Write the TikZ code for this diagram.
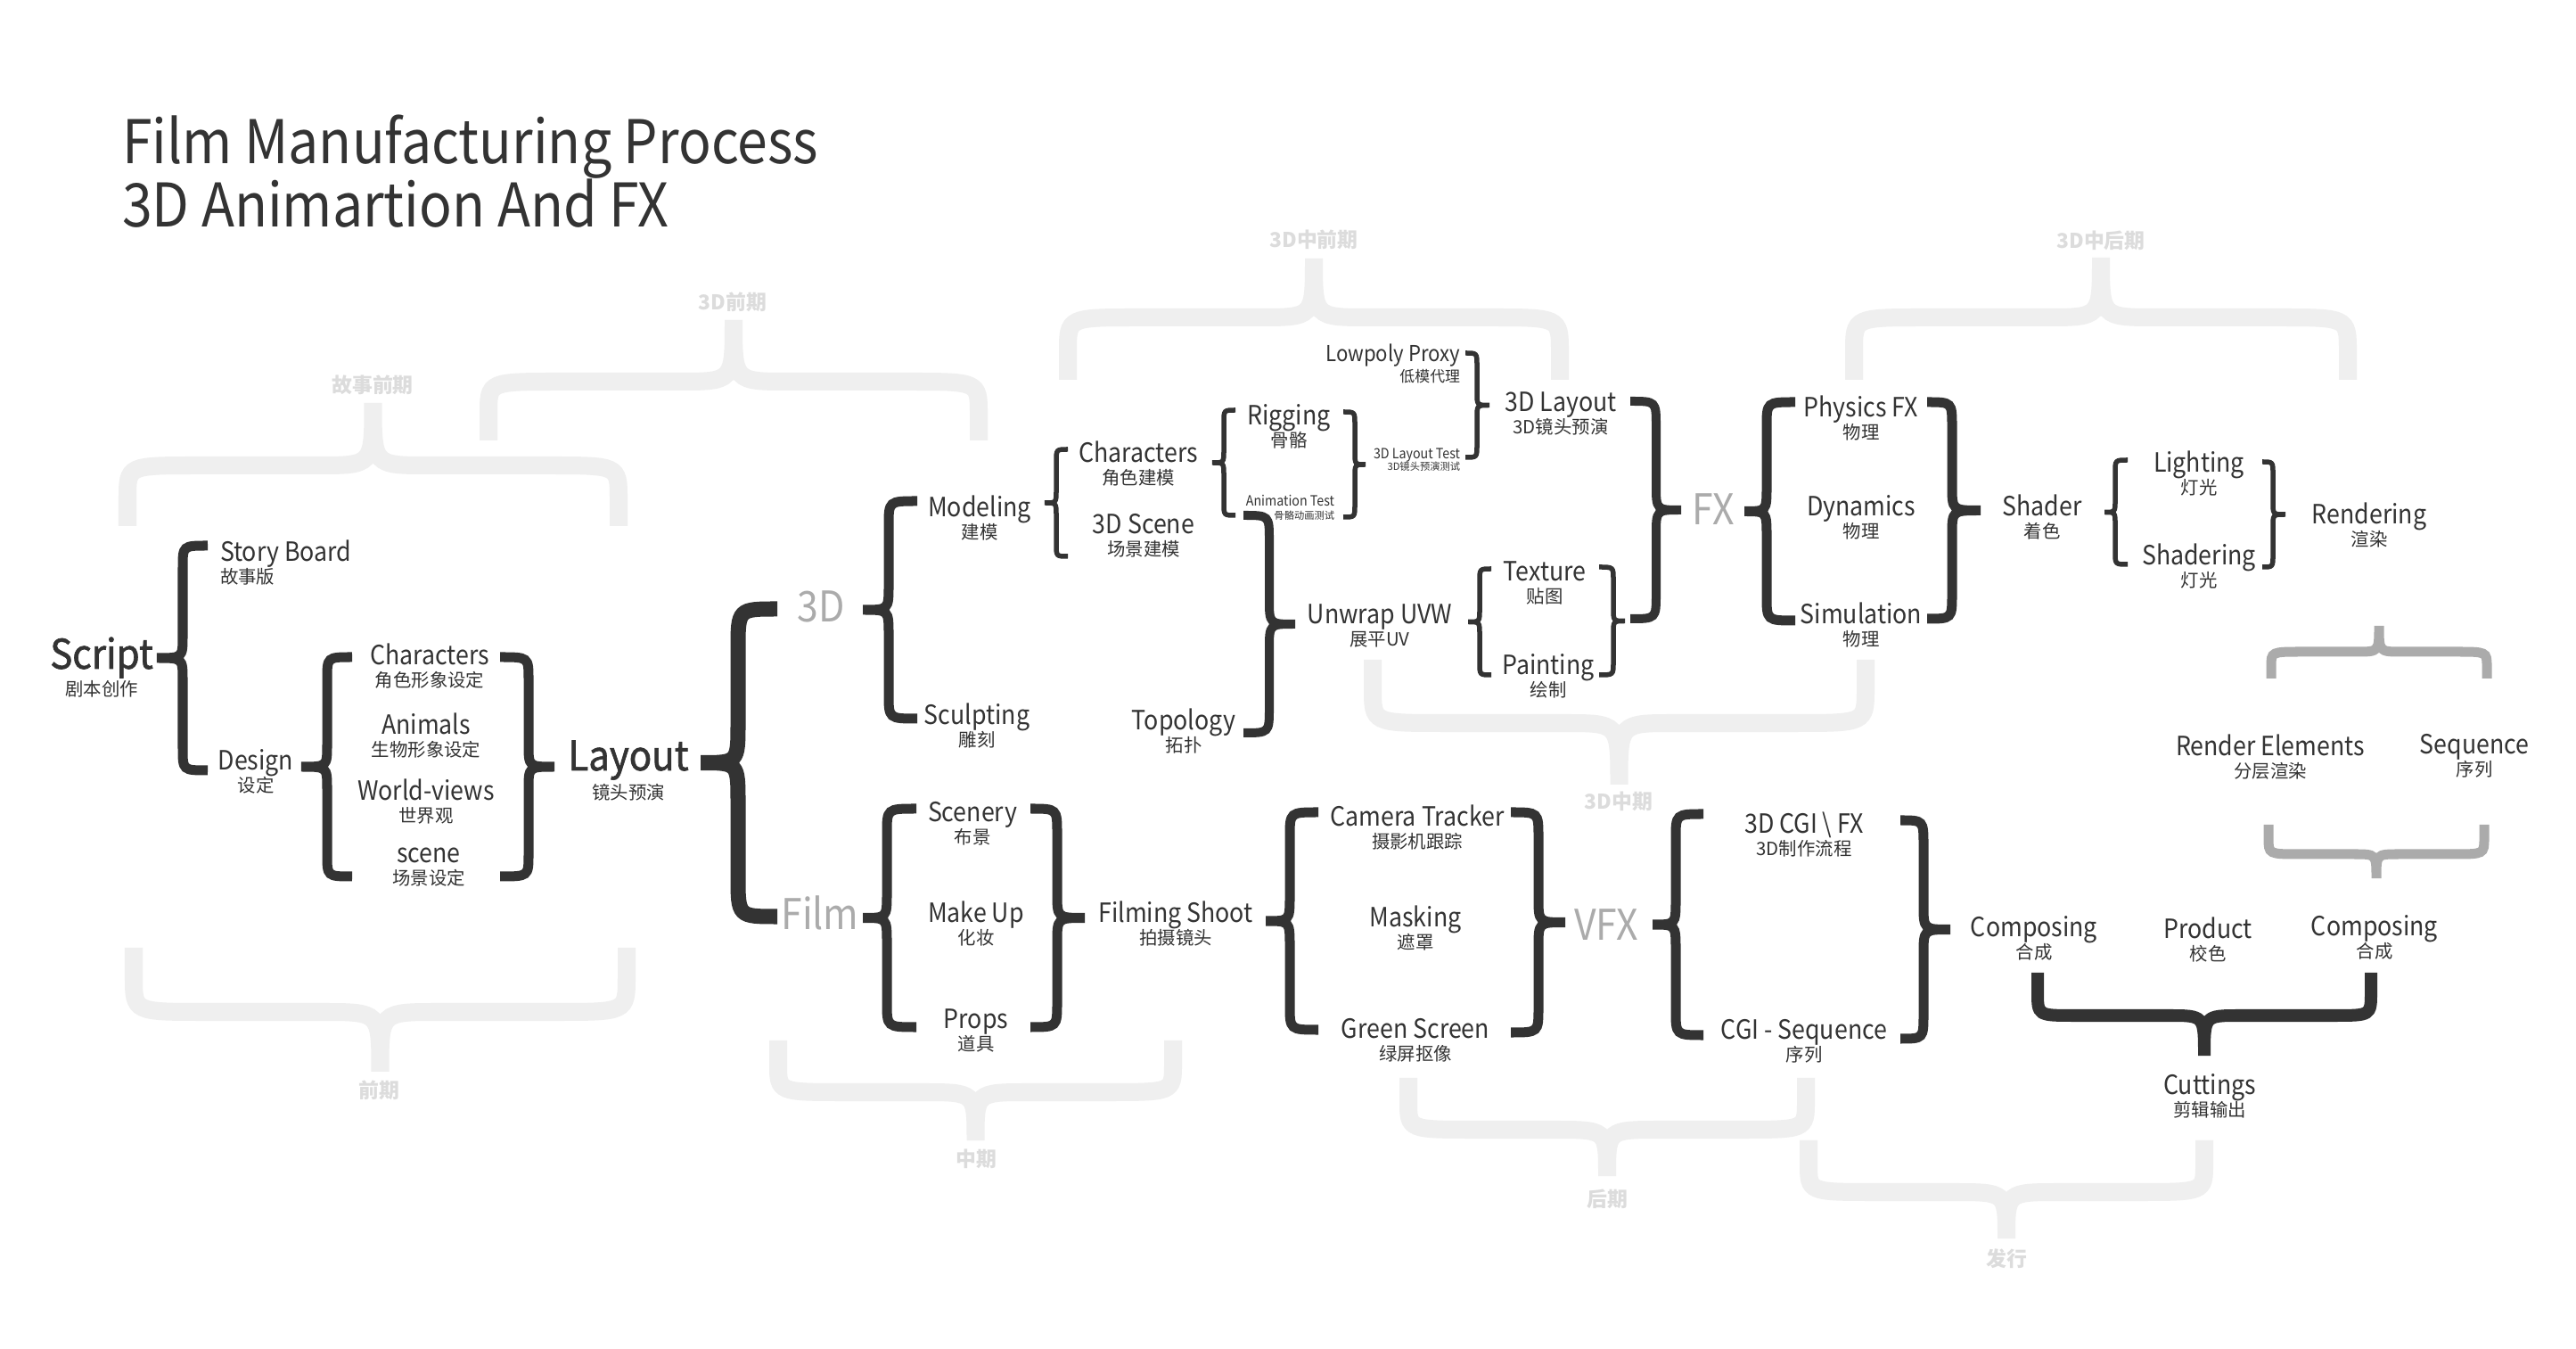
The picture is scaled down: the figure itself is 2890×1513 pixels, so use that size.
\documentclass[tikz,border=0pt]{standalone}
\usepackage{fontspec}
\setmainfont{Noto Sans CJK SC}
\newfontfamily\enfont[FakeStretch=0.9]{Noto Sans CJK SC}
\newfontfamily\semib[FakeBold=1.4,FakeStretch=0.92]{Noto Sans CJK SC}
\definecolor{ink}{HTML}{333333}
\definecolor{greytxt}{HTML}{ABABAB}
\definecolor{phasetxt}{HTML}{DCDCDC}
\definecolor{bgbrace}{HTML}{EFEFEF}
\definecolor{gbrace}{HTML}{ABABAB}
\tikzset{
  every node/.style={inner sep=0pt, outer sep=0pt, text=ink},
  en/.style={font=\enfont\fontsize{8.45}{10}\selectfont, anchor=base},
  zh/.style={font=\fontsize{5.8}{7}\selectfont, anchor=center},
  bigword/.style={font=\semib\fontsize{13}{15}\selectfont, anchor=base},
  greyword/.style={font=\enfont\fontsize{13.5}{15}\selectfont, text=greytxt, anchor=base},
  phase/.style={font=\fontsize{6.5}{8}\selectfont\bfseries, text=phasetxt, anchor=center},
  titletext/.style={font=\enfont\fontsize{19.2}{23}\selectfont, anchor=base west},
  smallen/.style={font=\enfont\fontsize{4.5}{5}\selectfont, anchor=base east},
  smallzh/.style={font=\fontsize{3.2}{4}\selectfont, anchor=east},
  bgbr/.style={draw=bgbrace, line width=0.2cm},
  greybr/.style={draw=gbrace, line width=0.11cm},
  brA/.style={draw=ink, line width=0.17cm},
  brB/.style={draw=ink, line width=0.14cm},
  brC/.style={draw=ink, line width=0.11cm},
  brD/.style={draw=ink, line width=0.10cm},
  brE/.style={draw=ink, line width=0.055cm},
}
% vertical brace: xend, xvertical, xtip, ytop, ybottom, radius
\newcommand{\vbr}[7][]{%
  \pgfmathsetmacro\vbym{(#5+#6)/2}%
  \draw[#1] (#2,#5) .. controls (#3,#5) .. (#3,#5+#7) -- (#3,\vbym-#7)
    .. controls (#3,\vbym) .. (#4,\vbym) .. controls (#3,\vbym) .. (#3,\vbym+#7)
    -- (#3,#6-#7) .. controls (#3,#6) .. (#2,#6);}
% horizontal brace: xleft, xright, yend, ybar, ytip, rx, rtip
\newcommand{\hbr}[8][]{%
  \pgfmathsetmacro\hbxt{(#2+#3)/2}%
  \pgfmathsetmacro\hbyl{#5+0.55*(#4-#5)}%
  \draw[#1] (#2,#4) -- (#2,\hbyl) .. controls (#2,#5) .. (#2+#7,#5) -- (\hbxt-#8,#5)
    .. controls (\hbxt,#5) .. (\hbxt,#6) .. controls (\hbxt,#5) .. (\hbxt+#8,#5)
    -- (#3-#7,#5) .. controls (#3,#5) .. (#3,\hbyl) -- (#3,#4);}
\newcommand{\lbl}[5]{%
  \node[en] (#1) at (#2,#3) {#4};
  \node[zh] (#1-zh) at (#2,#3+17) {#5};}
\begin{document}
\begin{tikzpicture}[x=0.01cm, y=-0.01cm]
\useasboundingbox (0,0) rectangle (2890,1513);
\fill[white] (0,0) rectangle (2890,1513);

% ---------- background phase braces ----------
\hbr[bgbr]{143}{694}{590}{522}{452}{80}{62}
\hbr[bgbr]{548}{1098}{494}{428}{359}{80}{62}
\hbr[bgbr]{1198}{1750}{426}{356}{290}{80}{62}
\hbr[bgbr]{2080}{2634}{426}{356}{289}{80}{62}
\hbr[bgbr]{1540}{2093}{740}{811}{880}{80}{62}
\hbr[bgbr]{150}{703}{1063}{1135}{1202}{80}{65}
\hbr[bgbr]{873}{1316}{1167}{1225}{1279}{75}{60}
\hbr[bgbr]{1580}{2026}{1209}{1267}{1319}{75}{60}
\hbr[bgbr]{2029}{2473}{1279}{1337}{1389}{75}{60}

\node[phase] (ph1) at (418,432) {故事前期};
\node[phase] (ph2) at (822,339) {3D前期};
\node[phase] (ph3) at (1474,269) {3D中前期};
\node[phase] (ph4) at (2357,270) {3D中后期};
\node[phase] (ph5) at (1816,899) {3D中期};
\node[phase] (ph6) at (425,1223) {前期};
\node[phase] (ph7) at (1095,1300) {中期};
\node[phase] (ph8) at (1803,1345) {后期};
\node[phase] (ph9) at (2251,1412) {发行};

% ---------- title ----------
\node[titletext] (title1) at (137,184) {Film Manufacturing Process};
\node[titletext] (title2) at (137,255) {3D Animartion And FX};

% ---------- dark braces ----------
\vbr[brC]{233}{205}{176}{612}{864}{25}
\vbr[brC]{395}{367}{338}{737}{983}{25}
\vbr[brC]{561}{593}{622}{737}{983}{25}
\vbr[brA]{872}{828}{786}{683}{1028}{45}
\vbr[brC]{1029}{997}{968}{562}{806}{28}
\vbr[brC]{1028}{995}{968}{907}{1152}{28}
\vbr[brC]{1156}{1186}{1217}{907}{1152}{28}
\vbr[brC]{1479}{1447}{1420}{911}{1155}{28}
\vbr[brC]{1695}{1726}{1756}{911}{1158}{28}
\vbr[brC]{1911}{1880}{1854}{913}{1161}{28}
\vbr[brC]{2132}{2158}{2188}{920}{1165}{28}
\vbr[brE]{1198}{1185}{1172}{504}{624}{14}
\vbr[brE]{1386}{1373}{1360}{460}{578}{14}
\vbr[brE]{1507}{1520}{1532}{462}{580}{14}
\vbr[brE]{1644}{1657}{1671}{396}{513}{14}
\vbr[brD]{1395}{1424}{1453}{578}{822}{28}
\vbr[brD]{1829}{1858}{1886}{450}{694}{28}
\vbr[brE]{1673}{1660}{1647}{638}{757}{14}
\vbr[brE]{1794}{1810}{1823}{636}{757}{14}
\vbr[brC]{2014}{1982}{1957}{451}{696}{28}
\vbr[brC]{2162}{2190}{2222}{451}{694}{28}
\vbr[brE]{2387}{2373}{2361}{516}{633}{14}
\vbr[brE]{2538}{2550}{2564}{518}{636}{14}

\hbr[greybr]{2548}{2790}{761}{731}{702}{35}{25}
\hbr[greybr]{2545}{2787}{925}{958}{985}{35}{25}
\hbr[brB]{2286}{2660}{1091}{1139}{1184}{42}{40}

% ---------- labels ----------
\node[bigword] (script) at (114,750) {Script};
\node[zh] (script-zh) at (114,773) {剧本创作};
\node[en, anchor=base west] (storyboard) at (247,630) {Story Board};
\node[zh, anchor=west] (storyboard-zh) at (247,647) {故事版};
\lbl{design}{287}{864}{Design}{设定}
\lbl{characters}{482}{746}{Characters}{角色形象设定}
\lbl{animals}{478}{824}{Animals}{生物形象设定}
\lbl{worldviews}{478}{898}{World-views}{世界观}
\lbl{scene}{481}{968}{scene}{场景设定}
\node[bigword] (layout) at (705,864) {Layout};
\node[zh] (layout-zh) at (705,889) {镜头预演};

\node[greyword] (threed) at (921,698) {3D};
\node[greyword] (film) at (920,1043) {Film};
\node[greyword] (fx) at (1922,589) {FX};
\node[greyword] (vfx) at (1802,1055) {VFX};

\lbl{modeling}{1099}{580}{Modeling}{建模}
\lbl{sculpting}{1096}{813}{Sculpting}{雕刻}
\lbl{chars3d}{1277}{519}{Characters}{角色建模}
\lbl{scene3d}{1283}{599}{3D Scene}{场景建模}
\lbl{rigging}{1446}{477}{Rigging}{骨骼}
\node[smallen] (animtest) at (1497,568) {Animation Test};
\node[smallzh] (animtest-zh) at (1497,578) {骨骼动画测试};
\node[smallen] (layouttest) at (1638,515) {3D Layout Test};
\node[smallzh] (layouttest-zh) at (1638,523) {3D镜头预演测试};
\node[en, font=\enfont\fontsize{7}{8}\selectfont, anchor=base east] (lowpoly) at (1638,406) {Lowpoly Proxy};
\node[zh, font=\fontsize{4.8}{6}\selectfont, anchor=east] (lowpoly-zh) at (1638,422) {低模代理};
\lbl{layout3d}{1751}{462}{3D Layout}{3D镜头预演}
\lbl{topology}{1328}{819}{Topology}{拓扑}
\lbl{unwrap}{1548}{700}{Unwrap UVW}{展平UV}
\lbl{texture}{1733}{652}{Texture}{贴图}
\lbl{painting}{1737}{757}{Painting}{绘制}

\lbl{physics}{2088}{468}{Physics FX}{物理}
\lbl{dynamics}{2088}{579}{Dynamics}{物理}
\lbl{simulation}{2088}{700}{Simulation}{物理}
\lbl{shader}{2291}{579}{Shader}{着色}
\lbl{lighting}{2467}{530}{Lighting}{灯光}
\lbl{shadering}{2467}{634}{Shadering}{灯光}
\lbl{rendering}{2658}{588}{Rendering}{渲染}
\lbl{renderel}{2547}{848}{Render Elements}{分层渲染}
\lbl{sequence}{2776}{846}{Sequence}{序列}

\lbl{scenery}{1091}{922}{Scenery}{布景}
\lbl{makeup}{1095}{1035}{Make Up}{化妆}
\lbl{props}{1095}{1154}{Props}{道具}
\lbl{filming}{1319}{1035}{Filming Shoot}{拍摄镜头}
\lbl{camera}{1590}{927}{Camera Tracker}{摄影机跟踪}
\lbl{masking}{1588}{1040}{Masking}{遮罩}
\lbl{green}{1588}{1165}{Green Screen}{绿屏抠像}

\lbl{cgi}{2024}{935}{3D CGI \textbackslash{} FX}{3D制作流程}
\lbl{cgiseq}{2024}{1166}{CGI - Sequence}{序列}
\lbl{composingL}{2282}{1051}{Composing}{合成}
\lbl{product}{2477}{1053}{Product}{校色}
\lbl{composingR}{2664}{1050}{Composing}{合成}
\lbl{cuttings}{2479}{1228}{Cuttings}{剪辑输出}
\end{tikzpicture}
\end{document}
